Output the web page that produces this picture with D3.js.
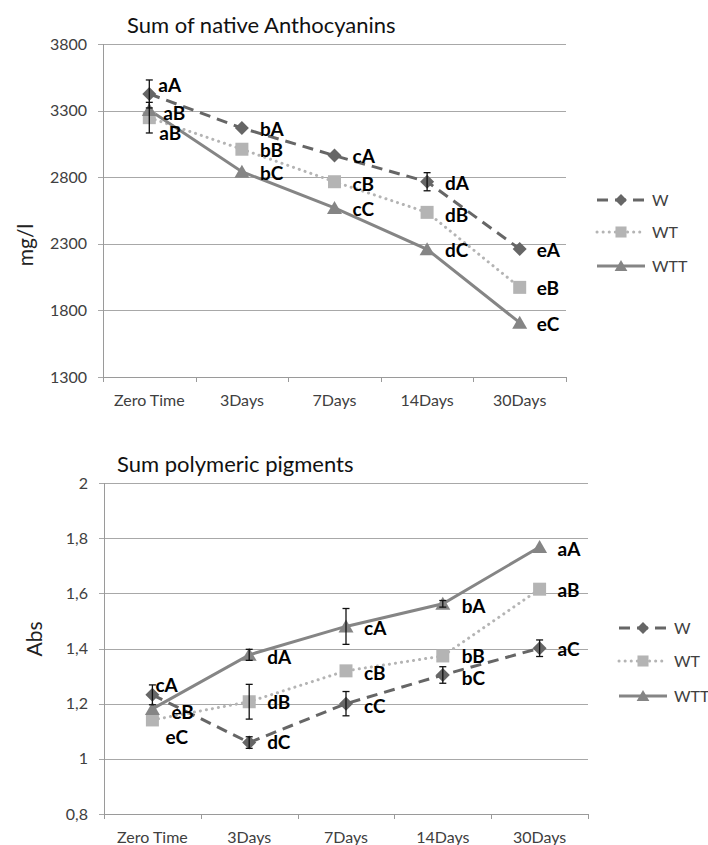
<!DOCTYPE html>
<html>
<head>
<meta charset="utf-8">
<script src="https://cdn.jsdelivr.net/npm/d3@7"></script>
<style>
  html, body { margin: 0; padding: 0; background: #fff; }
  svg { display: block; font-family: Lato, "Open Sans", sans-serif; }
</style>
</head>
<body>
<svg id="chart" width="708" height="845"></svg>
<script>
// ---------------- DATA ----------------
const categories = ["Zero Time", "3Days", "7Days", "14Days", "30Days"];
const seriesNames = ["W", "WT", "WTT"];

// Chart 1: Sum of native Anthocyanins (mg/l)
const anthoW   = [3425, 3169, 2962, 2766, 2261];
const anthoWT  = [3247, 3010, 2766, 2536, 1973];
const anthoWTT = [3305, 2841, 2569, 2259, 1708];
const anthoErrW   = [105, 0, 0, 68, 0];
const anthoErrWT  = [115, 0, 0, 0, 0];
const anthoErrWTT = [0, 0, 0, 0, 0];
const anthoLblW   = ["aA", "bA", "cA", "dA", "eA"];
const anthoLblWT  = ["aB", "bB", "cB", "dB", "eB"];
const anthoLblWTT = ["aB", "bC", "cC", "dC", "eC"];
const anthoTicks = [1300, 1800, 2300, 2800, 3300, 3800];
const anthoTickLabels = ["1300", "1800", "2300", "2800", "3300", "3800"];

// Chart 2: Sum polymeric pigments (Abs)
const polyW   = [1.232, 1.059, 1.200, 1.304, 1.401];
const polyWT  = [1.141, 1.207, 1.319, 1.373, 1.615];
const polyWTT = [1.181, 1.377, 1.480, 1.562, 1.768];
const polyErrW   = [0.036, 0.021, 0.044, 0.030, 0.030];
const polyErrWT  = [0, 0.063, 0, 0, 0];
const polyErrWTT = [0, 0.020, 0.065, 0.012, 0];
const polyLblW   = ["cA", "dC", "cC", "bC", "aC"];
const polyLblWT  = ["eC", "dB", "cB", "bB", "aB"];
const polyLblWTT = ["eB", "dA", "cA", "bA", "aA"];
const polyTicks = [0.8, 1.0, 1.2, 1.4, 1.6, 1.8, 2.0];
const polyTickLabels = ["0,8", "1", "1,2", "1,4", "1,6", "1,8", "2"];

// ---------------- STYLE / LAYOUT ----------------
const styles = {
  W:   { color: "#666666", dash: "11,7", cap: "butt",  marker: "diamond" },
  WT:  { color: "#b4b4b4", dash: "0.1,6", cap: "round", marker: "square" },
  WTT: { color: "#858585", dash: null,   cap: "butt",  marker: "triangle" }
};

// label offsets [dx, dy] per series per category (layout only)
const anthoOffsets = {
  W:   [[9, -9], [18, 1], [18, 1], [18, 1], [17, 1]],
  WT:  [[10, 16], [18, 1], [18, 2], [18, 3], [17, 1]],
  WTT: [[14, 3], [18, 1], [18, 1], [18, 1], [17, 2]]
};
const polyOffsets = {
  W:   [[3, -10], [18, 0], [18, 2], [19, 3], [18, 1]],
  WT:  [[13, 17], [18, 0], [18, 2], [19, 0], [18, 1]],
  WTT: [[19, 3], [18, 2], [18, 2], [19, 2], [18, 2]]
};

const svg = d3.select("#chart");

function markerPath(type) {
  if (type === "diamond") return "M0,-7L7,0L0,7L-7,0Z";
  if (type === "square") return "M-6.5,-6.5H6.5V6.5H-6.5Z";
  return "M0,-7L7.5,6L-7.5,6Z";
}

function drawChart(cfg) {
  const g = svg.append("g");
  const x = d3.scaleBand().domain(categories).range([cfg.left, cfg.right]).padding(0);
  const y = d3.scaleLinear().domain(cfg.domain).range([cfg.bottom, cfg.top]);
  const cx = c => x(c) + x.bandwidth() / 2;

  // gridlines
  g.append("g").selectAll("line").data(cfg.ticks).join("line")
    .attr("x1", cfg.left - 5).attr("x2", cfg.right)
    .attr("y1", d => Math.round(y(d)) + 0.5).attr("y2", d => Math.round(y(d)) + 0.5)
    .attr("stroke", "#a8a8a8").attr("stroke-width", 1);

  // y axis
  const yAxis = d3.axisLeft(y).tickValues(cfg.ticks)
    .tickFormat((d, i) => cfg.tickLabels[i]).tickSize(0).tickPadding(16);
  const ya = g.append("g").attr("transform", `translate(${cfg.left},0)`).call(yAxis);
  ya.select(".domain").remove();
  ya.selectAll("text").attr("font-size", 16).attr("fill", "#404040")
    .attr("font-family", "Lato, sans-serif");
  g.append("line").attr("x1", cfg.left + 0.5).attr("x2", cfg.left + 0.5)
    .attr("y1", y(cfg.domain[1])).attr("y2", y(cfg.domain[0]))
    .attr("stroke", "#9a9a9a");

  // x axis
  const xAxis = d3.axisBottom(x).tickSize(0).tickPadding(18);
  const xa = g.append("g").attr("transform", `translate(0,${cfg.bottom})`).call(xAxis);
  xa.select(".domain").remove();
  xa.selectAll("text").attr("font-size", 16).attr("fill", "#404040")
    .attr("font-family", "Lato, sans-serif");
  const bounds = categories.map(c => x(c)).concat([cfg.right]);
  g.append("g").selectAll("line").data(bounds).join("line")
    .attr("x1", d => Math.round(d) + 0.5).attr("x2", d => Math.round(d) + 0.5)
    .attr("y1", cfg.bottom).attr("y2", cfg.bottom + 5)
    .attr("stroke", "#9a9a9a");
  g.append("line").attr("x1", cfg.left).attr("x2", cfg.right)
    .attr("y1", Math.round(cfg.bottom) + 0.5).attr("y2", Math.round(cfg.bottom) + 0.5)
    .attr("stroke", "#9a9a9a");

  // title
  g.append("text").attr("x", cfg.titleX).attr("y", cfg.titleY)
    .attr("font-size", 22).attr("fill", "#111").text(cfg.title);

  // y label
  g.append("text").attr("transform", `translate(${cfg.ylabX},${cfg.ylabY}) rotate(-90)`)
    .attr("text-anchor", "middle").attr("font-size", 21).attr("fill", "#222")
    .text(cfg.ylabel);

  const line = d3.line().x((d, i) => cx(categories[i])).y(d => y(d));

  // lines
  cfg.series.forEach(s => {
    const st = styles[s.name];
    g.append("path").datum(s.values).attr("d", line)
      .attr("fill", "none").attr("stroke", st.color).attr("stroke-width", 3)
      .attr("stroke-dasharray", st.dash).attr("stroke-linecap", st.cap);
  });

  // markers
  cfg.series.forEach(s => {
    const st = styles[s.name];
    g.append("g").selectAll("path").data(s.values).join("path")
      .attr("transform", (d, i) => `translate(${cx(categories[i])},${y(d)})`)
      .attr("d", markerPath(st.marker)).attr("fill", st.color);
  });

  // error bars
  cfg.series.forEach(s => {
    const eg = g.append("g").attr("stroke", "#111").attr("stroke-width", 1.3);
    s.values.forEach((v, i) => {
      if (!s.err[i]) return;
      const px = cx(categories[i]);
      const y1 = y(v + s.err[i]), y2 = y(v - s.err[i]);
      eg.append("line").attr("x1", px).attr("x2", px).attr("y1", y1).attr("y2", y2);
      eg.append("line").attr("x1", px - 3.5).attr("x2", px + 3.5).attr("y1", y1).attr("y2", y1);
      eg.append("line").attr("x1", px - 3.5).attr("x2", px + 3.5).attr("y1", y2).attr("y2", y2);
    });
  });

  // data labels
  cfg.series.forEach(s => {
    const offs = cfg.offsets[s.name];
    g.append("g").selectAll("text").data(s.labels).join("text")
      .attr("x", (d, i) => cx(categories[i]) + offs[i][0])
      .attr("y", (d, i) => y(s.values[i]) + offs[i][1])
      .attr("dy", "0.36em")
      .attr("font-size", 19).attr("font-weight", "bold").attr("fill", "#000")
      .text(d => d);
  });

  // legend
  seriesNames.forEach((name, k) => {
    const st = styles[name];
    const ly = cfg.legY[k];
    const lg = g.append("g");
    lg.append("line").attr("x1", cfg.legX).attr("x2", cfg.legX + 48)
      .attr("y1", ly).attr("y2", ly)
      .attr("stroke", st.color).attr("stroke-width", 3)
      .attr("stroke-dasharray", st.dash)
      .attr("stroke-linecap", st.cap);
    lg.append("path")
      .attr("d", markerPath(st.marker)).attr("fill", st.color)
      .attr("transform", `translate(${cfg.legX + 24},${ly}) scale(0.85)`);
    lg.append("text").attr("x", cfg.legX + 55).attr("y", ly).attr("dy", "0.36em")
      .attr("font-size", 16).attr("fill", "#404040").text(name);
  });
}

drawChart({
  left: 103, right: 566, top: 44, bottom: 377,
  domain: [1300, 3800], ticks: anthoTicks, tickLabels: anthoTickLabels,
  title: "Sum of native Anthocyanins", titleX: 127, titleY: 33,
  ylabel: "mg/l", ylabX: 33, ylabY: 245,
  offsets: anthoOffsets,
  legX: 597, legY: [200, 232, 266],
  series: [
    { name: "W", values: anthoW, err: anthoErrW, labels: anthoLblW },
    { name: "WT", values: anthoWT, err: anthoErrWT, labels: anthoLblWT },
    { name: "WTT", values: anthoWTT, err: anthoErrWTT, labels: anthoLblWTT }
  ]
});

drawChart({
  left: 104, right: 588, top: 483, bottom: 814,
  domain: [0.8, 2.0], ticks: polyTicks, tickLabels: polyTickLabels,
  title: "Sum polymeric pigments", titleX: 117, titleY: 472,
  ylabel: "Abs", ylabX: 42, ylabY: 639,
  offsets: polyOffsets,
  legX: 619, legY: [628, 661, 696],
  series: [
    { name: "W", values: polyW, err: polyErrW, labels: polyLblW },
    { name: "WT", values: polyWT, err: polyErrWT, labels: polyLblWT },
    { name: "WTT", values: polyWTT, err: polyErrWTT, labels: polyLblWTT }
  ]
});
</script>
</body>
</html>
